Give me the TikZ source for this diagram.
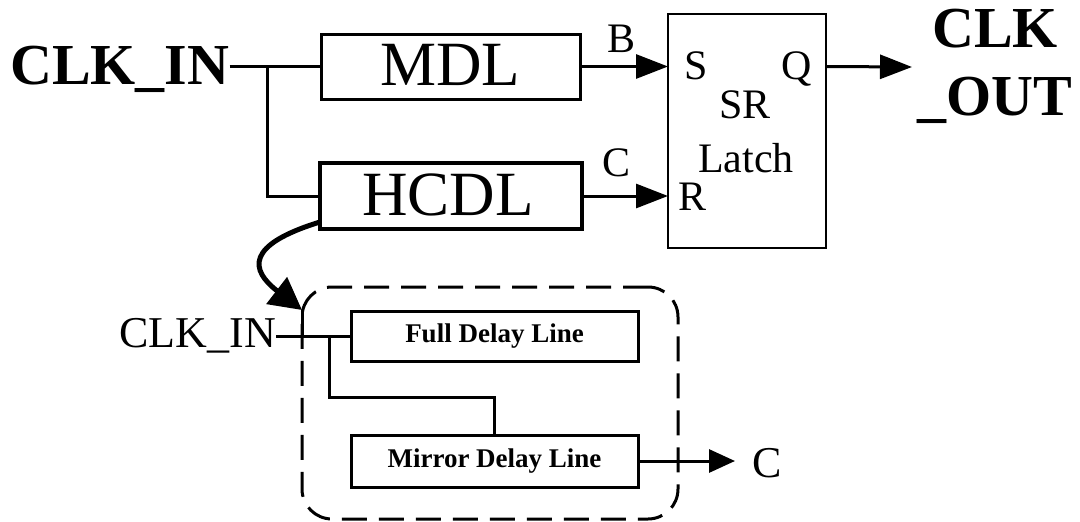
\documentclass[tikz,border=0pt]{standalone}
\usepackage{fontspec}
\setmainfont{Liberation Serif}
\usetikzlibrary{arrows.meta,calc}
\tikzset{
  blk/.style={draw, rectangle, inner sep=0pt, outer sep=0pt, line width=3pt},
  wire/.style={line width=3pt},
  sig/.style={line width=3pt, -{Triangle[length=32pt,width=24pt]}},
  lbl/.style={inner sep=0pt, font=\fontsize{42}{50}\selectfont},
  big/.style={inner sep=0pt, font=\fontsize{63}{70}\selectfont},
  bigbold/.style={inner sep=0pt, font=\bfseries\fontsize{58}{68}\selectfont},
  midlbl/.style={inner sep=0pt, font=\fontsize{44}{50}\selectfont},
  smallbold/.style={font=\bfseries\fontsize{27}{32}\selectfont},
}
\begin{document}
\begin{tikzpicture}[x=1pt,y=-1pt]
\useasboundingbox (0,0) rectangle (1080,522);

% top level: delay lines and SR latch
\node[blk, minimum width=259pt, minimum height=65pt] (mdl) at (450.5,66.5) {};
\node[big, anchor=base] at (450,85) {MDL};
\node[blk, line width=4.5pt, minimum width=262pt, minimum height=66pt] (hcdl) at (451,196) {};
\node[big, anchor=base] at (448,215) {HCDL};
\node[blk, line width=2.5pt, minimum width=158pt, minimum height=234pt] (latch) at (747,131) {};
\node[lbl, anchor=base] (S) at (696,79) {S};
\node[lbl, anchor=base] (Q) at (797,79) {Q};
\node[lbl, anchor=base] at (745,118) {SR};
\node[lbl, anchor=base] at (746,172) {Latch};
\node[lbl, anchor=base] (R) at (693,210) {R};
\node[lbl, anchor=base] at (622,52) {B};
\node[lbl, anchor=base] at (617,176) {C};

% input and output labels
\node[bigbold, anchor=base west] (inB) at (10,84) {CLK\_IN};
\node[bigbold, anchor=base, align=center] (outB) at (995,115) {CLK\\\_OUT};
\coordinate (j1) at (267,67);
\coordinate (qend) at (912,67);

\draw[wire] (inB.east |- mdl.west) -- (mdl.west);
\draw[wire] (j1) |- (hcdl.west);
\draw[sig] (mdl.east) -- (mdl.east -| latch.west);
\draw[sig] (hcdl.east) -- (hcdl.east -| latch.west);
\draw[sig] (latch.east |- mdl.east) -- (qend);

% expanded view of the HCDL
\node[draw, line width=3pt, dash pattern=on 25pt off 12pt, rounded corners=30pt,
      minimum width=376pt, minimum height=232pt, inner sep=0pt] (grp) at (490,403) {};
\node[blk, minimum width=287pt, minimum height=50pt] (full) at (494.5,336) {};
\node[smallbold] at (full.center) {Full Delay Line};
\node[blk, minimum width=287pt, minimum height=52pt] (mirror) at (494.5,461) {};
\node[smallbold] at (mirror.center) {Mirror Delay Line};
\node[midlbl, anchor=base east] (inS) at (276,347) {CLK\_IN};
\node[midlbl, anchor=base west] (cS) at (752,477) {C};
\coordinate (tipc) at (302,310);
\coordinate (j3) at (329,336);
\coordinate (cend) at (735,461);

\draw[line width=5pt, -{Triangle[length=32pt,width=33pt]}]
  ($(hcdl.south west)+(0,-7)$) .. controls (245,245) and (250,270) .. (tipc);
\draw[wire] (tipc) -- (tipc |- full.west);
\draw[wire] (inS.east |- full.west) -- (full.west);
\draw[wire] (j3) -- (329,397) -| (mirror.north);
\draw[line width=3pt, -{Triangle[length=26pt,width=23pt]}] (mirror.east) -- (cend);
\end{tikzpicture}
\end{document}
